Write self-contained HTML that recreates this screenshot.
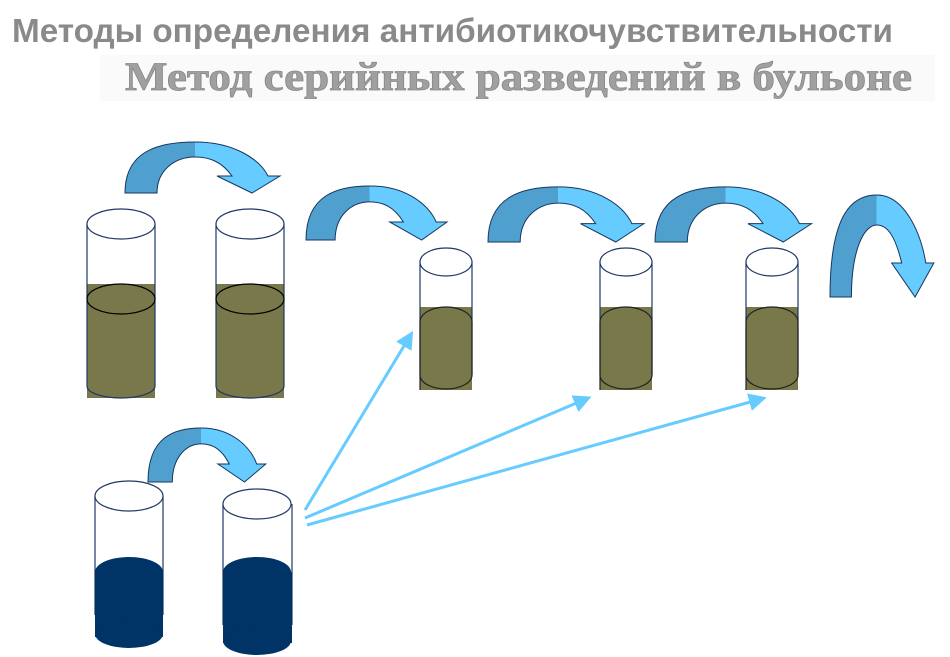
<!DOCTYPE html>
<html><head><meta charset="utf-8"><style>
html,body{margin:0;padding:0;background:#fff;}
svg{display:block;}
</style></head><body>
<svg width="950" height="657" viewBox="0 0 950 657" xmlns="http://www.w3.org/2000/svg">
<defs>
<linearGradient id="ag" x1="0" y1="0" x2="155" y2="0" gradientUnits="userSpaceOnUse">
<stop offset="0.45" stop-color="#4f9fcf"/><stop offset="0.45" stop-color="#66ccff"/>
</linearGradient>
<path id="arr" d="M0,0 C0,-43 35,-51 70,-51 C110,-51 135,-33 143,-17 L155,-17 L127,0 L92,-17 L107,-17 C97,-31 85,-36 70,-36 C50,-36 32,-23 32,0 Z" fill="url(#ag)" stroke="#17375e" stroke-width="1" vector-effect="non-scaling-stroke"/>
<marker id="mh" markerWidth="6" markerHeight="6" refX="4" refY="3" orient="auto" markerUnits="strokeWidth">
<path d="M0,0 L6,3 L0,6 Z" fill="#66ccff"/></marker>
</defs>
<rect x="100" y="55" width="835" height="46" fill="#fafafa"/>
<text x="12" y="42" font-family="Liberation Sans, sans-serif" font-weight="bold" font-size="33" fill="#8a8a8a" textLength="881" lengthAdjust="spacingAndGlyphs">Методы определения антибиотикочувствительности</text>
<text x="125" y="90" font-family="Liberation Serif, serif" font-weight="bold" font-size="40" fill="#a0a0a0" stroke="#888" stroke-width="0.8" textLength="787" lengthAdjust="spacingAndGlyphs">Метод серийных разведений в бульоне</text>

<!-- arrows -->
<use href="#arr" transform="translate(125,193) scale(1,1)"/>
<use href="#arr" transform="translate(306,240) scale(0.91,1.06)"/>
<use href="#arr" transform="translate(488,242) scale(1.006,1.08)"/>
<use href="#arr" transform="translate(655,242) scale(1.01,1.08)"/>
<use href="#arr" transform="translate(830,297) scale(0.67,2.0)"/>
<use href="#arr" transform="translate(148,482) scale(0.76,1.06)"/>

<!-- big tubes -->
<g stroke="#1f3864" stroke-width="1.2">
<rect x="87" y="284" width="68" height="114" fill="#78784a" stroke="none"/>
<path d="M87,224 V386 M155,224 V386" fill="none"/>
<ellipse cx="121" cy="224" rx="34" ry="15" fill="#fff"/>
<ellipse cx="121" cy="299" rx="34" ry="15" fill="none" stroke="#000"/>
<path d="M87,386 A34,12 0 0 0 155,386" fill="none"/>
<rect x="216" y="284" width="68" height="114" fill="#78784a" stroke="none"/>
<path d="M216,224 V386 M284,224 V386" fill="none"/>
<ellipse cx="250" cy="224" rx="34" ry="15" fill="#fff"/>
<ellipse cx="250" cy="299" rx="34" ry="15" fill="none" stroke="#000"/>
<path d="M216,386 A34,12 0 0 0 284,386" fill="none"/>
</g>

<!-- small tubes -->
<g stroke="#1f3864" stroke-width="1.2">
<g>
<rect x="420" y="307" width="52" height="83" fill="#78784a" stroke="none"/>
<path d="M420,262 V375 M472,262 V375" fill="none"/>
<ellipse cx="446" cy="262" rx="26" ry="14" fill="#fff"/>
<path d="M420,390 V322 A26,15 0 0 1 472,322 V375 A26,14 0 0 1 420,375" fill="none" stroke="#222"/>
</g>
<g transform="translate(180,0)">
<rect x="420" y="307" width="52" height="83" fill="#78784a" stroke="none"/>
<path d="M420,262 V375 M472,262 V375" fill="none"/>
<ellipse cx="446" cy="262" rx="26" ry="14" fill="#fff"/>
<path d="M420,390 V322 A26,15 0 0 1 472,322 V375 A26,14 0 0 1 420,375" fill="none" stroke="#222"/>
</g>
<g transform="translate(326,0)">
<rect x="420" y="307" width="52" height="83" fill="#78784a" stroke="none"/>
<path d="M420,262 V375 M472,262 V375" fill="none"/>
<ellipse cx="446" cy="262" rx="26" ry="14" fill="#fff"/>
<path d="M420,390 V322 A26,15 0 0 1 472,322 V375 A26,14 0 0 1 420,375" fill="none" stroke="#222"/>
</g>
</g>

<!-- bottom tubes -->
<g stroke="#1f3864" stroke-width="1.2">
<path d="M95,496 V615 M163,496 V615" fill="none"/>
<ellipse cx="129" cy="496" rx="34" ry="15" fill="#fff"/>
<ellipse cx="129" cy="572" rx="34" ry="15" fill="#003366" stroke="none"/>
<rect x="95" y="572" width="68" height="65" fill="#003366" stroke="none"/>
<ellipse cx="129" cy="634" rx="34" ry="14" fill="#003366" stroke="none"/>
<path d="M223,504 V625 M292,504 V625" fill="none"/>
<ellipse cx="257" cy="504" rx="34" ry="15" fill="#fff"/>
<ellipse cx="257" cy="572" rx="34" ry="15" fill="#003366" stroke="none"/>
<rect x="223" y="572" width="69" height="71" fill="#003366" stroke="none"/>
<ellipse cx="257" cy="641" rx="34" ry="14" fill="#003366" stroke="none"/>
</g>

<!-- light blue connectors -->
<g stroke="#66ccff" stroke-width="3" fill="none">
<line x1="305" y1="510" x2="410" y2="336" marker-end="url(#mh)"/>
<line x1="305" y1="518" x2="586" y2="399" marker-end="url(#mh)"/>
<line x1="307" y1="525" x2="761" y2="399" marker-end="url(#mh)"/>
</g>
</svg>
</body></html>
